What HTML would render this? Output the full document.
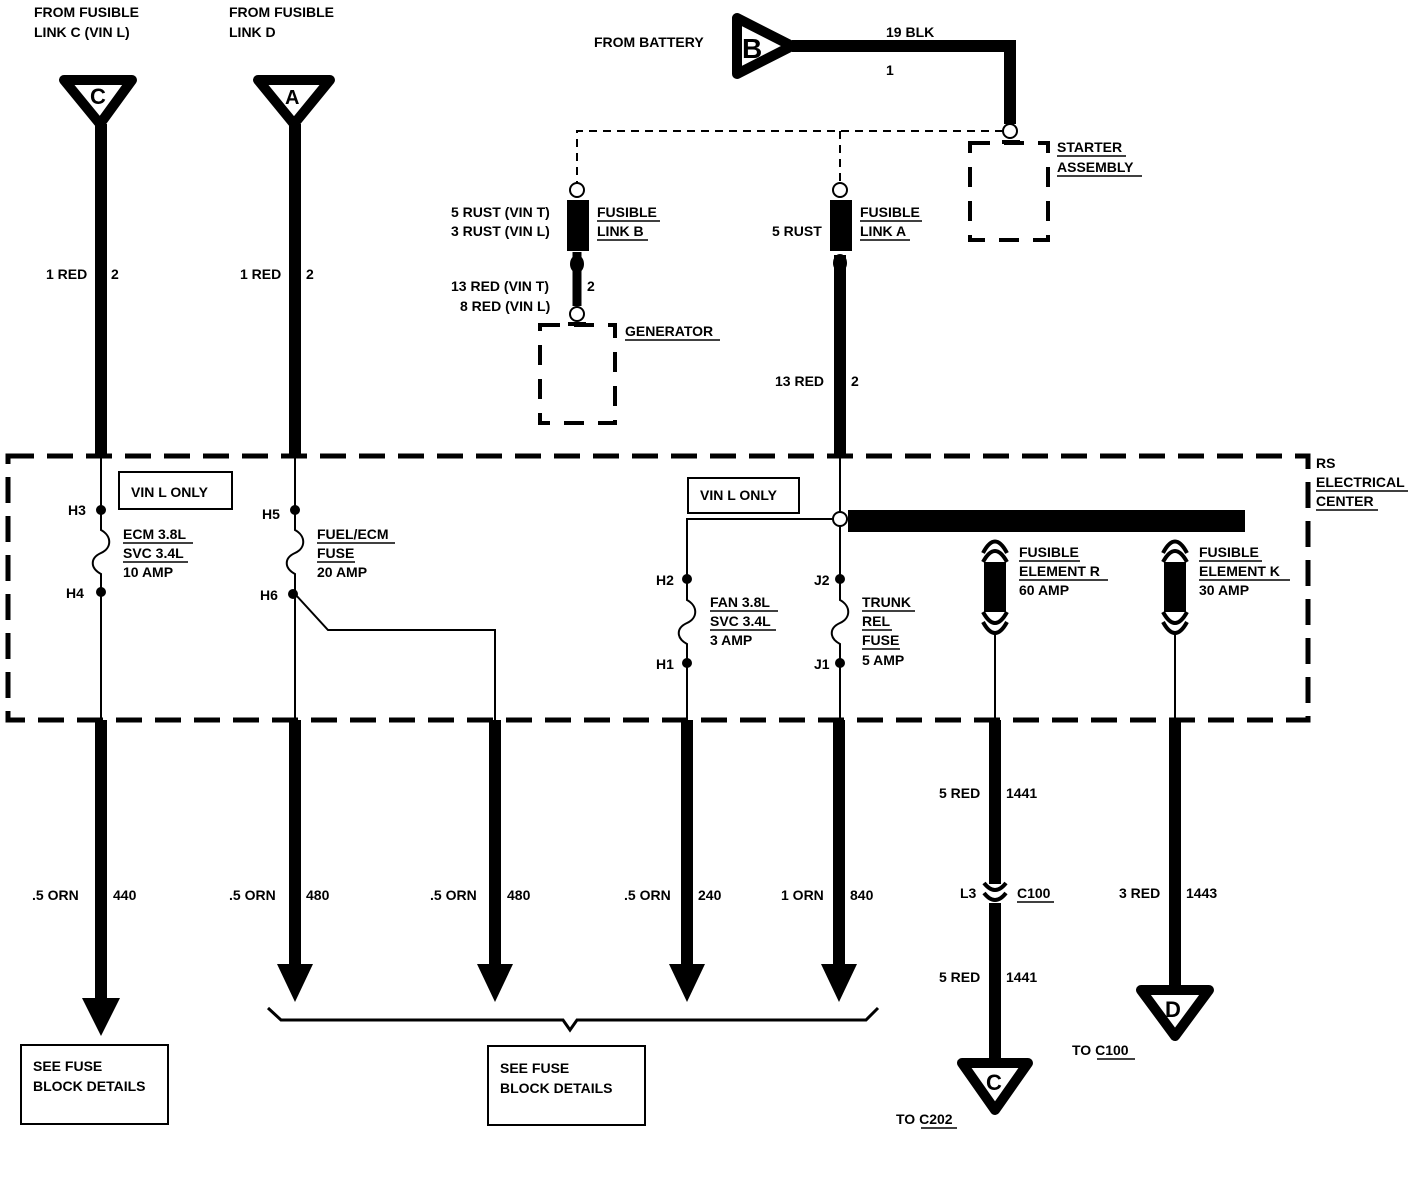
<!DOCTYPE html>
<html><head><style>
html,body{margin:0;padding:0;background:#fff;}
svg{display:block;}
text{font-family:"Liberation Sans",sans-serif;font-weight:bold;font-size:14px;fill:#000;}
.t{stroke:#000;stroke-width:12;fill:none;}
.n{stroke:#000;stroke-width:2;fill:none;}
.u{stroke:#000;stroke-width:1.5;}
</style></head><body>
<svg width="1424" height="1198" viewBox="0 0 1424 1198" xmlns="http://www.w3.org/2000/svg">
<text x="34" y="17">FROM FUSIBLE</text>
<text x="34" y="37">LINK C  (VIN L)</text>
<text x="229" y="17">FROM FUSIBLE</text>
<text x="229" y="37">LINK D</text>
<polygon points="64,80 132,80 100,124" fill="#fff" stroke="#000" stroke-width="10" stroke-linejoin="round"/>
<text x="90" y="104" style="font-size:22px">C</text>
<line class="t" x1="101" y1="124" x2="101" y2="456"/>
<polygon points="258,80 330,80 294,124" fill="#fff" stroke="#000" stroke-width="10" stroke-linejoin="round"/>
<text x="285" y="104" style="font-size:20px">A</text>
<line class="t" x1="295" y1="124" x2="295" y2="456"/>
<text x="46" y="279">1 RED</text><text x="111" y="279">2</text>
<text x="240" y="279">1 RED</text><text x="306" y="279">2</text>

<text x="594" y="47">FROM BATTERY</text>
<polygon points="737,18 737,74 792,46" fill="#fff" stroke="#000" stroke-width="10" stroke-linejoin="round"/>
<text x="742" y="58" style="font-size:28px">B</text>
<polyline class="t" points="792,46 1010,46 1010,124"/>
<text x="886" y="37">19 BLK</text>
<text x="886" y="75">1</text>
<circle cx="1010" cy="131" r="7" fill="#fff" stroke="#000" stroke-width="2"/>
<path d="M1003,131 H577 V183 M840,131 V183" stroke="#000" stroke-width="2" fill="none" stroke-dasharray="8,6"/>
<rect x="970" y="143" width="78" height="97" fill="none" stroke="#000" stroke-width="4" stroke-dasharray="20,14"/>
<line x1="1002" y1="142" x2="1020" y2="142" stroke="#000" stroke-width="4"/>
<text x="1057" y="152">STARTER</text><text x="1057" y="172">ASSEMBLY</text>
<line class="u" x1="1057" y1="156" x2="1126" y2="156"/><line class="u" x1="1057" y1="176" x2="1142" y2="176"/>

<circle cx="577" cy="190" r="7" fill="#fff" stroke="#000" stroke-width="2"/>
<rect x="567" y="200" width="22" height="51" fill="#000"/>
<ellipse cx="577" cy="264" rx="7" ry="9" fill="#000"/>
<line x1="577" y1="252" x2="577" y2="306" stroke="#000" stroke-width="9"/>
<circle cx="577" cy="314" r="7" fill="#fff" stroke="#000" stroke-width="2"/>
<text x="451" y="217">5 RUST  (VIN T)</text><text x="451" y="236">3 RUST  (VIN L)</text>
<text x="597" y="217">FUSIBLE</text><text x="597" y="236">LINK B</text>
<line class="u" x1="597" y1="221" x2="660" y2="221"/><line class="u" x1="597" y1="240" x2="648" y2="240"/>
<text x="451" y="291">13 RED  (VIN T)</text><text x="460" y="311">8 RED  (VIN L)</text>
<text x="587" y="291">2</text>
<rect x="540" y="325" width="75" height="98" fill="none" stroke="#000" stroke-width="4" stroke-dasharray="20,14"/>
<line x1="568" y1="324" x2="586" y2="324" stroke="#000" stroke-width="4"/>
<text x="625" y="336">GENERATOR</text><line class="u" x1="625" y1="340" x2="720" y2="340"/>

<circle cx="840" cy="190" r="7" fill="#fff" stroke="#000" stroke-width="2"/>
<rect x="830" y="200" width="22" height="51" fill="#000"/>
<ellipse cx="840" cy="263" rx="7" ry="9" fill="#000"/>
<line class="t" x1="840" y1="255" x2="840" y2="456"/>
<text x="772" y="236">5 RUST</text>
<text x="860" y="217">FUSIBLE</text><text x="860" y="236">LINK A</text>
<line class="u" x1="860" y1="221" x2="922" y2="221"/><line class="u" x1="860" y1="240" x2="910" y2="240"/>
<text x="775" y="386">13 RED</text><text x="851" y="386">2</text>

<rect x="8" y="456" width="1300" height="264" fill="none" stroke="#000" stroke-width="5" stroke-dasharray="26,13"/>
<text x="1316" y="468">RS</text><text x="1316" y="487">ELECTRICAL</text><text x="1316" y="506">CENTER</text>
<line class="u" x1="1316" y1="491" x2="1408" y2="491"/><line class="u" x1="1316" y1="510" x2="1378" y2="510"/>

<path class="n" d="M101,456 V530 C112,536 112,548 101,553 C90,558 90,568 101,574 V720"/>
<circle cx="101" cy="510" r="5"/><circle cx="101" cy="592" r="5"/>
<text x="68" y="515">H3</text><text x="66" y="598">H4</text>
<rect x="119" y="472" width="113" height="37" fill="none" stroke="#000" stroke-width="2"/>
<text x="131" y="497">VIN L ONLY</text>
<text x="123" y="539">ECM 3.8L</text><text x="123" y="558">SVC 3.4L</text><text x="123" y="577">10 AMP</text>
<line class="u" x1="123" y1="543" x2="193" y2="543"/><line class="u" x1="123" y1="562" x2="188" y2="562"/>

<path class="n" d="M295,456 V530 C306,536 306,548 295,553 C284,558 284,568 295,574 V720"/>
<path class="n" d="M295,594 L328,630 H495 V720"/>
<circle cx="295" cy="510" r="5"/><circle cx="293" cy="594" r="5"/>
<text x="262" y="519">H5</text><text x="260" y="600">H6</text>
<text x="317" y="539">FUEL/ECM</text><text x="317" y="558">FUSE</text><text x="317" y="577">20 AMP</text>
<line class="u" x1="317" y1="543" x2="395" y2="543"/><line class="u" x1="317" y1="562" x2="355" y2="562"/>

<path class="n" d="M833,519 H687 V600 C698,606 698,618 687,623 C676,628 676,638 687,644 V720"/>
<path class="n" d="M840,456 V600 C851,606 851,618 840,623 C829,628 829,638 840,644 V720"/>
<circle cx="840" cy="519" r="7" fill="#fff" stroke="#000" stroke-width="2"/>
<rect x="848" y="510" width="397" height="22" fill="#000"/>
<rect x="688" y="478" width="111" height="35" fill="none" stroke="#000" stroke-width="2"/>
<text x="700" y="500">VIN L ONLY</text>
<circle cx="687" cy="579" r="5"/><circle cx="687" cy="663" r="5"/>
<circle cx="840" cy="579" r="5"/><circle cx="840" cy="663" r="5"/>
<text x="656" y="585">H2</text><text x="656" y="669">H1</text>
<text x="814" y="585">J2</text><text x="814" y="669">J1</text>
<text x="710" y="607">FAN 3.8L</text><text x="710" y="626">SVC 3.4L</text><text x="710" y="645">3 AMP</text>
<line class="u" x1="710" y1="611" x2="778" y2="611"/><line class="u" x1="710" y1="630" x2="776" y2="630"/>
<text x="862" y="607">TRUNK</text><text x="862" y="626">REL</text><text x="862" y="645">FUSE</text><text x="862" y="665">5 AMP</text>
<line class="u" x1="862" y1="611" x2="915" y2="611"/><line class="u" x1="862" y1="630" x2="892" y2="630"/><line class="u" x1="862" y1="649" x2="900" y2="649"/>

<g>
<path d="M983,553 Q995,530 1007,553 M983,562 Q995,540 1007,562" stroke="#000" stroke-width="4" fill="none"/>
<rect x="984" y="562" width="22" height="50" fill="#000"/>
<path d="M983,612 Q995,634 1007,612 M983,622 Q995,644 1007,622" stroke="#000" stroke-width="4" fill="none"/>
<line x1="995" y1="632" x2="995" y2="720" stroke="#000" stroke-width="2"/>
</g>
<g transform="translate(180,0)">
<path d="M983,553 Q995,530 1007,553 M983,562 Q995,540 1007,562" stroke="#000" stroke-width="4" fill="none"/>
<rect x="984" y="562" width="22" height="50" fill="#000"/>
<path d="M983,612 Q995,634 1007,612 M983,622 Q995,644 1007,622" stroke="#000" stroke-width="4" fill="none"/>
<line x1="995" y1="632" x2="995" y2="720" stroke="#000" stroke-width="2"/>
</g>
<text x="1019" y="557">FUSIBLE</text><text x="1019" y="576">ELEMENT R</text><text x="1019" y="595">60 AMP</text>
<line class="u" x1="1019" y1="561" x2="1080" y2="561"/><line class="u" x1="1019" y1="580" x2="1108" y2="580"/>
<text x="1199" y="557">FUSIBLE</text><text x="1199" y="576">ELEMENT K</text><text x="1199" y="595">30 AMP</text>
<line class="u" x1="1199" y1="561" x2="1262" y2="561"/><line class="u" x1="1199" y1="580" x2="1290" y2="580"/>

<line class="t" x1="101" y1="720" x2="101" y2="1000"/>
<polygon points="82,998 120,998 101,1036"/>
<line class="t" x1="295" y1="720" x2="295" y2="966"/>
<polygon points="277,964 313,964 295,1002"/>
<line class="t" x1="495" y1="720" x2="495" y2="966"/>
<polygon points="477,964 513,964 495,1002"/>
<line class="t" x1="687" y1="720" x2="687" y2="966"/>
<polygon points="669,964 705,964 687,1002"/>
<line class="t" x1="839" y1="720" x2="839" y2="966"/>
<polygon points="821,964 857,964 839,1002"/>
<text x="32" y="900">.5 ORN</text><text x="113" y="900">440</text>
<text x="229" y="900">.5 ORN</text><text x="306" y="900">480</text>
<text x="430" y="900">.5 ORN</text><text x="507" y="900">480</text>
<text x="624" y="900">.5 ORN</text><text x="698" y="900">240</text>
<text x="781" y="900">1 ORN</text><text x="850" y="900">840</text>
<path d="M268,1008 L281,1020 H563 L570,1030 L577,1020 H866 L878,1008" stroke="#000" stroke-width="3" fill="none"/>
<rect x="21" y="1045" width="147" height="79" fill="none" stroke="#000" stroke-width="2"/>
<text x="33" y="1071">SEE FUSE</text><text x="33" y="1091">BLOCK DETAILS</text>
<rect x="488" y="1046" width="157" height="79" fill="none" stroke="#000" stroke-width="2"/>
<text x="500" y="1073">SEE FUSE</text><text x="500" y="1093">BLOCK DETAILS</text>

<line class="t" x1="995" y1="720" x2="995" y2="884"/>
<path d="M984,883 Q995,897 1006,883 M984,893 Q995,907 1006,893" stroke="#000" stroke-width="4" fill="none"/>
<line class="t" x1="995" y1="903" x2="995" y2="1065"/>
<polygon points="962,1063 1028,1063 995,1110" fill="#fff" stroke="#000" stroke-width="10" stroke-linejoin="round"/>
<text x="986" y="1090" style="font-size:22px">C</text>
<text x="939" y="798">5 RED</text><text x="1006" y="798">1441</text>
<text x="960" y="898">L3</text><text x="1017" y="898">C100</text><line class="u" x1="1017" y1="902" x2="1054" y2="902"/>
<text x="939" y="982">5 RED</text><text x="1006" y="982">1441</text>
<text x="896" y="1124">TO C202</text><line class="u" x1="921" y1="1128" x2="957" y2="1128"/>
<line class="t" x1="1175" y1="720" x2="1175" y2="990"/>
<polygon points="1141,990 1209,990 1175,1036" fill="#fff" stroke="#000" stroke-width="10" stroke-linejoin="round"/>
<text x="1165" y="1017" style="font-size:22px">D</text>
<text x="1119" y="898">3 RED</text><text x="1186" y="898">1443</text>
<text x="1072" y="1055">TO C100</text><line class="u" x1="1097" y1="1059" x2="1135" y2="1059"/>
</svg>
</body></html>
